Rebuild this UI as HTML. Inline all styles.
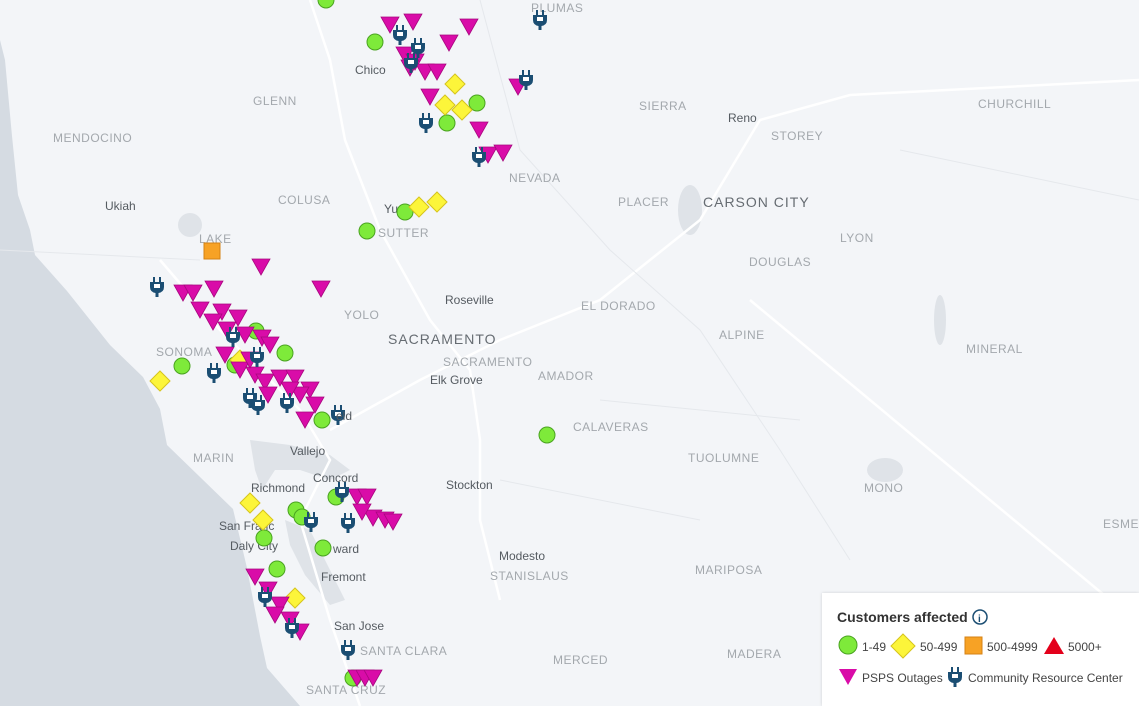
<!DOCTYPE html>
<html><head><meta charset="utf-8"><style>
html,body{margin:0;padding:0;width:1139px;height:706px;overflow:hidden;background:#f3f5f8;font-family:"Liberation Sans",sans-serif}
svg{position:absolute;left:0;top:0}
.c{font-size:12px;fill:#a3a8ad;letter-spacing:0.5px}
.t{font-size:12px;fill:#555b61}
.big{font-size:14px;fill:#666c72;letter-spacing:1px}
#leg{position:absolute;left:822px;top:593px;width:317px;height:113px;background:#fff;box-shadow:0 0 3px rgba(0,0,0,.15)}
</style></head><body>
<svg width="1139" height="706" viewBox="0 0 1139 706">
<defs>
<g id="tri"><path d="M-9,-8 L9,-8 L0,8 Z" fill="#d90ca8" stroke="#a8087f" stroke-width="0.8"/></g>
<g id="cir"><circle r="8" fill="#7eea3a" stroke="#4aa321" stroke-width="1"/></g>
<g id="dia"><path d="M0,-10 L10,0 L0,10 L-10,0Z" fill="#fcf53a" stroke="#d6c41c" stroke-width="1"/></g>
<g id="plug" fill="#1b4e73"><rect x="-4" y="-10" width="2" height="5"/><rect x="2" y="-10" width="2" height="5"/><path d="M-7,-5 H7 V0 Q7,5 1.5,6 V10 H-1.5 V6 Q-7,5 -7,0Z"/><rect x="-3" y="-3" width="6" height="4" fill="#fff"/></g>
</defs>
<!-- ocean -->
<path d="M0,40 L5,60 L12,136 L18,195 L30,230 L35,255 L67,291 L110,345 L143,377 L160,409 L167,445 L200,477 L233,509 L247,568 L260,636 L267,668 L300,706 L0,706Z" fill="#d5dbe2"/>
<!-- bay -->
<path d="M250,440 L290,445 L330,455 L350,470 L330,480 L300,470 L275,470 L262,490 L255,470 Z" fill="#dfe3e8"/>
<path d="M285,520 L310,530 L330,570 L345,600 L330,605 L305,575 L290,545Z" fill="#dfe3e8"/>
<ellipse cx="690" cy="210" rx="12" ry="25" fill="#dfe3e8"/>
<ellipse cx="885" cy="470" rx="18" ry="12" fill="#dfe3e8"/>
<ellipse cx="940" cy="320" rx="6" ry="25" fill="#dfe3e8"/>
<ellipse cx="190" cy="225" rx="12" ry="12" fill="#dfe3e8"/>
<!-- roads -->
<g stroke="#fff" stroke-width="2.5" fill="none">
<path d="M310,0 L330,60 L345,140 L380,230 L430,320 L470,370 L480,440 L480,520 L500,600"/>
<path d="M330,430 L420,380 L500,340 L600,300 L700,220 L760,120 L850,95 L1139,80"/>
<path d="M160,260 L220,330 L300,410 L330,460 L300,520 L330,620 L360,706"/>
<path d="M750,300 L1110,600"/>
</g>
<g stroke="#e5e8ec" stroke-width="1" fill="none">
<path d="M480,0 L520,150 L610,250 L700,330 L780,450 L850,560"/>
<path d="M0,250 L200,260 M600,400 L800,420 M500,480 L700,520 M900,150 L1139,200"/>
</g>
<!-- labels -->
<text class="c" x="253" y="105">GLENN</text>
<text class="c" x="53" y="142">MENDOCINO</text>
<text class="c" x="278" y="204">COLUSA</text>
<text class="c" x="378" y="237">SUTTER</text>
<text class="c" x="199" y="243">LAKE</text>
<text class="c" x="344" y="319">YOLO</text>
<text class="c" x="156" y="356">SONOMA</text>
<text class="c" x="639" y="110">SIERRA</text>
<text class="c" x="509" y="182">NEVADA</text>
<text class="c" x="618" y="206">PLACER</text>
<text class="c" x="581" y="310">EL DORADO</text>
<text class="c" x="443" y="366">SACRAMENTO</text>
<text class="c" x="538" y="380">AMADOR</text>
<text class="c" x="573" y="431">CALAVERAS</text>
<text class="c" x="719" y="339">ALPINE</text>
<text class="c" x="688" y="462">TUOLUMNE</text>
<text class="c" x="193" y="462">MARIN</text>
<text class="c" x="490" y="580">STANISLAUS</text>
<text class="c" x="695" y="574">MARIPOSA</text>
<text class="c" x="553" y="664">MERCED</text>
<text class="c" x="727" y="658">MADERA</text>
<text class="c" x="360" y="655">SANTA CLARA</text>
<text class="c" x="306" y="694">SANTA CRUZ</text>
<text class="c" x="531" y="12">PLUMAS</text>
<text class="c" x="978" y="108">CHURCHILL</text>
<text class="c" x="771" y="140">STOREY</text>
<text class="c" x="749" y="266">DOUGLAS</text>
<text class="c" x="840" y="242">LYON</text>
<text class="c" x="966" y="353">MINERAL</text>
<text class="c" x="864" y="492">MONO</text>
<text class="c" x="1103" y="528">ESME</text>
<text class="t" x="355" y="74">Chico</text>
<text class="t" x="105" y="210">Ukiah</text>
<text class="t" x="384" y="213">Yu</text>
<text class="t" x="728" y="122">Reno</text>
<text class="t" x="445" y="304">Roseville</text>
<text class="big" x="388" y="344">SACRAMENTO</text>
<text class="big" x="703" y="207">CARSON CITY</text>
<text class="t" x="430" y="384">Elk Grove</text>
<text class="t" x="290" y="455">Vallejo</text>
<text class="t" x="251" y="492">Richmond</text>
<text class="t" x="313" y="482">Concord</text>
<text class="t" x="446" y="489">Stockton</text>
<text class="t" x="219" y="530">San Franc</text>
<text class="t" x="230" y="550">Daly City</text>
<text class="t" x="333" y="553">ward</text>
<text class="t" x="321" y="581">Fremont</text>
<text class="t" x="499" y="560">Modesto</text>
<text class="t" x="334" y="630">San Jose</text>
<rect x="204" y="243" width="16" height="16" fill="#f7a225" stroke="#d68214"/>
<g>
<use href="#cir" x="326" y="0"/><use href="#cir" x="375" y="42"/><use href="#cir" x="477" y="103"/><use href="#cir" x="447" y="123"/><use href="#cir" x="405" y="212"/><use href="#cir" x="367" y="231"/><use href="#cir" x="182" y="366"/><use href="#cir" x="256" y="331"/><use href="#cir" x="285" y="353"/><use href="#cir" x="322" y="420"/><use href="#cir" x="547" y="435"/><use href="#cir" x="336" y="497"/><use href="#cir" x="296" y="510"/><use href="#cir" x="302" y="517"/><use href="#cir" x="264" y="538"/><use href="#cir" x="323" y="548"/><use href="#cir" x="277" y="569"/><use href="#cir" x="353" y="678"/><use href="#cir" x="235" y="365"/>
<use href="#dia" x="455" y="84"/><use href="#dia" x="445" y="105"/><use href="#dia" x="462" y="110"/><use href="#dia" x="419" y="207"/><use href="#dia" x="437" y="202"/><use href="#dia" x="160" y="381"/><use href="#dia" x="240" y="360"/><use href="#dia" x="250" y="503"/><use href="#dia" x="263" y="520"/><use href="#dia" x="295" y="598"/>
<use href="#tri" x="390" y="25"/><use href="#tri" x="413" y="22"/><use href="#tri" x="469" y="27"/><use href="#tri" x="449" y="43"/><use href="#tri" x="405" y="55"/><use href="#tri" x="415" y="62"/><use href="#tri" x="425" y="72"/><use href="#tri" x="437" y="72"/><use href="#tri" x="410" y="68"/><use href="#tri" x="430" y="97"/><use href="#tri" x="518" y="87"/><use href="#tri" x="479" y="130"/><use href="#tri" x="488" y="155"/><use href="#tri" x="503" y="153"/><use href="#tri" x="261" y="267"/><use href="#tri" x="321" y="289"/><use href="#tri" x="183" y="293"/><use href="#tri" x="193" y="293"/><use href="#tri" x="214" y="289"/><use href="#tri" x="200" y="310"/><use href="#tri" x="222" y="312"/><use href="#tri" x="238" y="318"/><use href="#tri" x="213" y="322"/><use href="#tri" x="227" y="330"/><use href="#tri" x="245" y="335"/><use href="#tri" x="262" y="338"/><use href="#tri" x="270" y="345"/><use href="#tri" x="225" y="355"/><use href="#tri" x="240" y="370"/><use href="#tri" x="255" y="375"/><use href="#tri" x="265" y="382"/><use href="#tri" x="280" y="378"/><use href="#tri" x="295" y="378"/><use href="#tri" x="310" y="390"/><use href="#tri" x="300" y="395"/><use href="#tri" x="315" y="405"/><use href="#tri" x="305" y="420"/><use href="#tri" x="268" y="395"/><use href="#tri" x="290" y="390"/><use href="#tri" x="250" y="360"/><use href="#tri" x="357" y="497"/><use href="#tri" x="367" y="497"/><use href="#tri" x="373" y="518"/><use href="#tri" x="385" y="520"/><use href="#tri" x="393" y="522"/><use href="#tri" x="362" y="512"/><use href="#tri" x="255" y="577"/><use href="#tri" x="268" y="590"/><use href="#tri" x="280" y="605"/><use href="#tri" x="290" y="620"/><use href="#tri" x="300" y="632"/><use href="#tri" x="275" y="615"/><use href="#tri" x="357" y="678"/><use href="#tri" x="365" y="678"/><use href="#tri" x="373" y="678"/>
<use href="#plug" x="540" y="20"/><use href="#plug" x="400" y="35"/><use href="#plug" x="418" y="48"/><use href="#plug" x="411" y="63"/><use href="#plug" x="526" y="80"/><use href="#plug" x="426" y="123"/><use href="#plug" x="479" y="157"/><use href="#plug" x="157" y="287"/><use href="#plug" x="233" y="337"/><use href="#plug" x="257" y="357"/><use href="#plug" x="214" y="373"/><use href="#plug" x="250" y="398"/><use href="#plug" x="258" y="405"/><use href="#plug" x="287" y="403"/><use href="#plug" x="338" y="415"/><use href="#plug" x="342" y="492"/><use href="#plug" x="311" y="522"/><use href="#plug" x="348" y="523"/><use href="#plug" x="265" y="597"/><use href="#plug" x="292" y="628"/><use href="#plug" x="348" y="650"/>
</g>
<text x="336" y="420" class="t">eld</text>
</svg>
<div id="leg">
<svg width="317" height="113">
<text x="15" y="29" style="font-size:14px;font-weight:bold;fill:#333">Customers affected</text>
<circle cx="158" cy="24" r="7" fill="none" stroke="#1b4e73" stroke-width="1.5"/><text x="156" y="29" style="font-size:10px;fill:#1b4e73;font-weight:bold">i</text>
<circle cx="26" cy="52" r="9" fill="#7eea3a" stroke="#4aa321"/>
<text x="40" y="58" style="font-size:12px;fill:#444">1-49</text>
<path d="M81,41 L93,53 L81,65 L69,53Z" fill="#fcf53a" stroke="#d6c41c"/>
<text x="98" y="58" style="font-size:12px;fill:#444">50-499</text>
<rect x="143" y="44" width="17" height="17" fill="#f7a225" stroke="#d68214"/>
<text x="165" y="58" style="font-size:12px;fill:#444">500-4999</text>
<path d="M232,44 L242,61 L222,61Z" fill="#e3001b"/>
<text x="246" y="58" style="font-size:12px;fill:#444">5000+</text>
<path d="M17,76 L35,76 L26,92Z" fill="#d90ca8"/>
<text x="40" y="89" style="font-size:12px;fill:#444">PSPS Outages</text>
<use href="#plug" x="133" y="84"/>
<text x="146" y="89" style="font-size:12px;fill:#444">Community Resource Center</text>
</svg>
</div>
</body></html>
